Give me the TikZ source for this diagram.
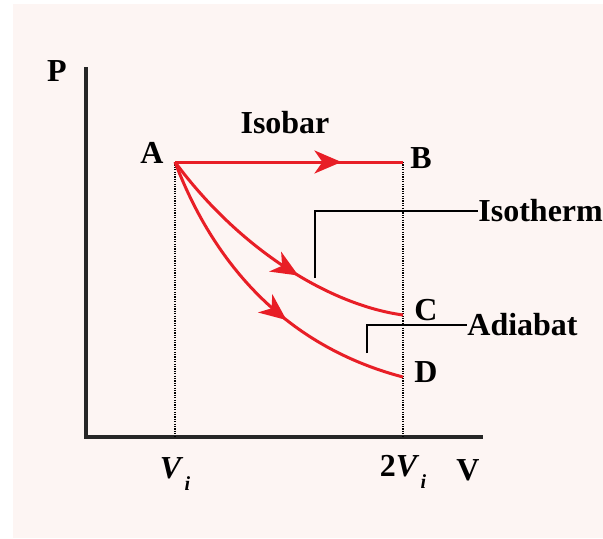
\documentclass[tikz,border=0pt]{standalone}
\usepackage{fontspec}
\setmainfont{Liberation Serif}
\usepackage{xcolor}
\usepackage{tikz}
\usetikzlibrary{arrows.meta,decorations.markings,positioning}

\definecolor{bgpink}{RGB}{253,245,243}
\definecolor{curvered}{RGB}{232,30,38}

\begin{document}
\begin{tikzpicture}[x=0.5pt,y=-0.5pt,
  lbl/.style={font=\fontsize{16}{18}\selectfont\bfseries,inner sep=0pt},
  proc/.style={draw=curvered,line width=1.5pt},
  midarrow/.style={postaction={decorate},decoration={markings,
      mark=at position #1 with {\arrow{Stealth[length=13.5pt,width=11.5pt,inset=4pt,fill=curvered]}}}},
  guide/.style={draw,dash pattern=on 0.6pt off 0.6pt,line width=1.1pt},
  leader/.style={draw,line width=0.6pt}]
  \useasboundingbox (0,0) rectangle (603,538);
  \fill[bgpink] (13,4) rectangle (603,538);
  % points on the diagram
  \coordinate (A) at (175,162);
  \coordinate (B) at (403,162);
  \coordinate (C) at (403,315);
  \coordinate (D) at (403,377);
  \coordinate (O) at (86,437);
  \coordinate (ptop) at (86,67);
  \coordinate (vend) at (483,437);
  \coordinate (vi) at (175,437);
  \coordinate (vii) at (403,437);
  % axes
  \draw[line width=1.6pt,black!85] (ptop) -- (O) -- (vend);
  \draw[guide] (A) -- (vi);
  \draw[guide] (B) -- (vii);
  % processes
  \draw[proc,midarrow=0.73] (A) -- (B);
  \draw[proc,midarrow=0.6] (A) .. controls (240,250) and (330,305) .. (C);
  \draw[proc,midarrow=0.6] (A) .. controls (220,280) and (300,350) .. (D);
  % labels
  \node[lbl] (la) at (152,153) {A};
  \node[lbl] (lb) at (421,158) {B};
  \node[lbl] (lc) at (426,310) {C};
  \node[lbl] (ld) at (426,372) {D};
  \node[lbl] (lp) at (57,71) {P};
  \node[lbl] (lv) at (468,470) {V};
  \node[lbl] (isobar) at (285,123) {Isobar};
  \node[lbl,anchor=west] (isotherm) at (478,211) {Isotherm};
  \node[lbl,anchor=west] (adiabat) at (467,325) {Adiabat};
  \node[lbl] (lvi) at (175,474) {\itshape V\raisebox{-0.8ex}{\fontsize{10}{12}\selectfont\,i}};
  \node[lbl] (lvii) at (403,472) {2\itshape V\raisebox{-0.8ex}{\fontsize{10}{12}\selectfont\,i}};
  % leaders
  \coordinate (isot) at (315,278);
  \coordinate (adia) at (367,353);
  \draw[leader] (isot) |- (isotherm.west);
  \draw[leader] (adia) |- (adiabat.west);
\end{tikzpicture}
\end{document}
